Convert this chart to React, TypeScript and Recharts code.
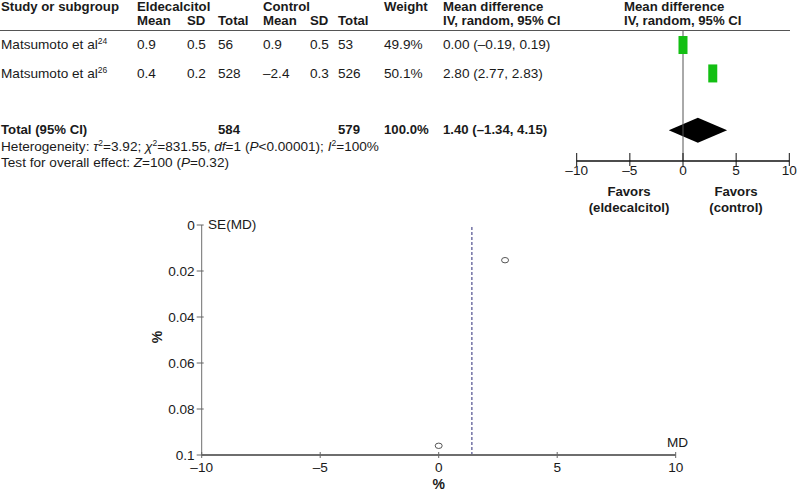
import React from 'react';
import { ComposedChart, Scatter, XAxis, YAxis, ReferenceLine, ReferenceArea } from 'recharts';

// ---- table data ----
const studyNames = ['Matsumoto et al', 'Matsumoto et al'];
const studyRefs = ['24', '26'];
const eldMean = [0.9, 0.4];
const eldSD = [0.5, 0.2];
const eldTotal = [56, 528];
const ctlMean = [0.9, -2.4];
const ctlSD = [0.5, 0.3];
const ctlTotal = [53, 526];
const weights = [49.9, 50.1];
const mdValues = [0.0, 2.8];
const ciLow = [-0.19, 2.77];
const ciHigh = [0.19, 2.83];

const pooledMD = 1.4;
const pooledLow = -1.34;
const pooledHigh = 4.15;
const eldSum = 584;
const ctlSum = 579;
const tau2 = 3.92;
const chi2 = 831.55;
const df = 1;
const hetP = '<0.00001';
const i2 = 100;
const zValue = 100;
const overallP = 0.32;

const forestTicks = [-10, -5, 0, 5, 10];

// ---- funnel data ----
const seValues = [0.096, 0.0153];
const seTicks = [0, 0.02, 0.04, 0.06, 0.08, 0.1];
const mdTicks = [-10, -5, 0, 5, 10];

const FONT = '"Liberation Sans", Arial, sans-serif';
const REG = 13.6;
const BOLD = 13.2;
const fmt = (v: number, d: number) => (v < 0 ? '–' : '') + Math.abs(v).toFixed(d);
const num = (v: number) => (v < 0 ? '–' : '') + Math.abs(v);

const Txt = ({ x, y, children, bold = false, anchor = 'start', size }: any) => {
    const tr = anchor === 'middle' ? 'translate(-50%,-50%)' : anchor === 'end' ? 'translate(-100%,-50%)' : 'translate(0,-50%)';
    return (
        <div style={{
            position: 'absolute', left: x, top: y, transform: tr, whiteSpace: 'nowrap',
            fontSize: size || (bold ? BOLD : REG), fontWeight: bold ? 700 : 400, lineHeight: 1, color: '#1a1a1a'
        }}>{children}</div>
    );
};

const Sup = ({ children }: any) => (
    <span style={{ fontSize: 8.5, position: 'relative', top: -5 }}>{children}</span>
);

const StudyBox = (props: any) => {
    const { cx, cy } = props;
    return <rect x={cx - 4.5} y={cy - 9} width={9} height={18} fill="#13bf13" />;
};

const Diamond = (props: any) => {
    const x = Math.min(props.x, props.x + props.width);
    const w = Math.abs(props.width);
    const y = Math.min(props.y, props.y + props.height);
    const h = Math.abs(props.height);
    const mx = x + w * (pooledMD - pooledLow) / (pooledHigh - pooledLow);
    const my = y + h / 2;
    return <polygon points={`${x},${my} ${mx},${y} ${x + w},${my} ${mx},${y + h}`} fill="#000" />;
};

const ForestTick = (props: any) => {
    const { x, y, payload } = props;
    return (
        <g>
            <line x1={x} x2={x} y1={y - 8} y2={y + 5} stroke="#111" strokeWidth={1} />
            <text x={x} y={y + 14} textAnchor="middle" fontSize={REG} fontFamily={FONT} fill="#1a1a1a">{num(payload.value)}</text>
        </g>
    );
};

const FunnelXTick = (props: any) => {
    const { x, y, payload } = props;
    return (
        <g>
            <line x1={x} x2={x} y1={y - 3} y2={y + 3} stroke="#666" strokeWidth={1} />
            <text x={x} y={y + 16.5} textAnchor="middle" fontSize={REG} fontFamily={FONT} fill="#1a1a1a">{num(payload.value)}</text>
        </g>
    );
};

const FunnelYTick = (props: any) => {
    const { x, y, payload } = props;
    return (
        <g>
            <line x1={x - 5} x2={x + 2} y1={y} y2={y} stroke="#666" strokeWidth={1} />
            <text x={x - 7} y={y + 4.8} textAnchor="end" fontSize={REG} fontFamily={FONT} fill="#1a1a1a">{String(payload.value)}</text>
        </g>
    );
};

const Ellipse = (props: any) => {
    const { cx, cy } = props;
    return <ellipse cx={cx} cy={cy} rx={3.5} ry={2.7} fill="none" stroke="#555" strokeWidth={1} />;
};

const studyRows = studyNames.map((_, i) => ({ md: mdValues[i], row: i + 1 }));
const funnelPoints = mdValues.map((m, i) => ({ md: m, se: seValues[i] }));

const colX = { name: 1, eMean: 137, eSD: 187, eTot: 218, cMean: 263, cSD: 310, cTot: 338, weight: 384, md: 443, plot: 624 };
const rowY = [45, 74];

export default function App() {
    return (
        <div style={{ position: 'absolute', left: 0, top: 0, width: 797, height: 492, background: '#fff', fontFamily: FONT, overflow: 'hidden' }}>
            {/* forest plot */}
            <div style={{ position: 'absolute', left: 0, top: 0 }}>
                <ComposedChart width={797} height={220} margin={{ top: 31, right: 7.7, left: 576.7, bottom: 0 }}>
                    <XAxis type="number" dataKey="md" domain={[-10, 10]} ticks={forestTicks} height={59}
                        axisLine={{ stroke: '#111', strokeWidth: 1.5 }} tickLine={false} tickSize={0} tickMargin={0}
                        tick={<ForestTick />} interval={0} allowDataOverflow />
                    <YAxis type="number" dataKey="row" domain={[0.507, 5.08]} reversed hide width={0} allowDataOverflow />
                    <ReferenceLine x={0} stroke="#555" strokeWidth={1} />
                    {studyRows.map((r, i) => (
                        <ReferenceLine key={i} segment={[{ x: ciLow[i], y: r.row }, { x: ciHigh[i], y: r.row }]} stroke="#000" />
                    ))}
                    <ReferenceArea x1={pooledLow} x2={pooledHigh} y1={3.56} y2={4.44} shape={<Diamond />} />
                    <Scatter data={studyRows} dataKey="row" shape={<StudyBox />} isAnimationActive={false} />
                </ComposedChart>
            </div>

            {/* funnel plot */}
            <div style={{ position: 'absolute', left: 0, top: 0 }}>
                <ComposedChart width={797} height={492} margin={{ top: 225, right: 121.3, left: 141.7, bottom: 0 }}>
                    <XAxis type="number" dataKey="md" domain={[-10, 10]} ticks={mdTicks} height={37}
                        axisLine={{ stroke: '#6e6e6e', strokeWidth: 2 }} tickLine={false} tickSize={0} tickMargin={0}
                        tick={<FunnelXTick />} interval={0} />
                    <YAxis type="number" dataKey="se" domain={[0, 0.1]} ticks={seTicks} reversed width={60}
                        axisLine={{ stroke: '#6e6e6e', strokeWidth: 1 }} tickLine={false} tickSize={0} tickMargin={0}
                        tick={<FunnelYTick />} interval={0} />
                    <ReferenceLine x={pooledMD} stroke="#4f4f8f" strokeWidth={1.2} strokeDasharray="3 2" />
                    <Scatter data={funnelPoints} dataKey="se" shape={<Ellipse />} isAnimationActive={false} />
                </ComposedChart>
            </div>

            {/* header rule */}
            <div style={{ position: 'absolute', left: 0, top: 30, width: 790, height: 1, background: '#555' }} />

            {/* table headers */}
            <Txt x={colX.name} y={7} bold>Study or subgroup</Txt>
            <Txt x={colX.eMean} y={7} bold>Eldecalcitol</Txt>
            <Txt x={colX.cMean} y={7} bold>Control</Txt>
            <Txt x={colX.weight} y={7} bold>Weight</Txt>
            <Txt x={colX.md} y={7} bold>Mean difference</Txt>
            <Txt x={colX.plot} y={7} bold>Mean difference</Txt>
            <Txt x={colX.eMean} y={21} bold>Mean</Txt>
            <Txt x={colX.eSD} y={21} bold>SD</Txt>
            <Txt x={colX.eTot} y={21} bold>Total</Txt>
            <Txt x={colX.cMean} y={21} bold>Mean</Txt>
            <Txt x={colX.cSD} y={21} bold>SD</Txt>
            <Txt x={colX.cTot} y={21} bold>Total</Txt>
            <Txt x={colX.md} y={21} bold>IV, random, 95% CI</Txt>
            <Txt x={colX.plot} y={21} bold>IV, random, 95% CI</Txt>

            {/* study rows */}
            {studyNames.map((n, i) => (
                <React.Fragment key={i}>
                    <Txt x={colX.name} y={rowY[i]}>{n}<Sup>{studyRefs[i]}</Sup></Txt>
                    <Txt x={colX.eMean} y={rowY[i]}>{fmt(eldMean[i], 1)}</Txt>
                    <Txt x={colX.eSD} y={rowY[i]}>{fmt(eldSD[i], 1)}</Txt>
                    <Txt x={colX.eTot} y={rowY[i]}>{eldTotal[i]}</Txt>
                    <Txt x={colX.cMean} y={rowY[i]}>{fmt(ctlMean[i], 1)}</Txt>
                    <Txt x={colX.cSD} y={rowY[i]}>{fmt(ctlSD[i], 1)}</Txt>
                    <Txt x={colX.cTot} y={rowY[i]}>{ctlTotal[i]}</Txt>
                    <Txt x={colX.weight} y={rowY[i]}>{weights[i].toFixed(1)}%</Txt>
                    <Txt x={colX.md} y={rowY[i]}>{fmt(mdValues[i], 2)} ({fmt(ciLow[i], 2)}, {fmt(ciHigh[i], 2)})</Txt>
                </React.Fragment>
            ))}

            {/* total */}
            <Txt x={colX.name} y={130} bold>Total (95% CI)</Txt>
            <Txt x={colX.eTot} y={130} bold>{eldSum}</Txt>
            <Txt x={colX.cTot} y={130} bold>{ctlSum}</Txt>
            <Txt x={colX.weight} y={130} bold>{(weights[0] + weights[1]).toFixed(1)}%</Txt>
            <Txt x={colX.md} y={130} bold>{fmt(pooledMD, 2)} ({fmt(pooledLow, 2)}, {fmt(pooledHigh, 2)})</Txt>
            <Txt x={colX.name} y={147}>
                Heterogeneity: <i>τ</i><Sup>2</Sup>={tau2.toFixed(2)}; <i>χ</i><Sup>2</Sup>={chi2.toFixed(2)}, <i>df</i>={df} (<i>P</i>{hetP}); <i>I</i><Sup>2</Sup>={i2}%
            </Txt>
            <Txt x={colX.name} y={163}>
                Test for overall effect: <i>Z</i>={zValue} (<i>P</i>={overallP.toFixed(2)})
            </Txt>

            {/* favors labels */}
            <Txt x={629} y={192} bold anchor="middle">Favors</Txt>
            <Txt x={629} y={208} bold anchor="middle">(eldecalcitol)</Txt>
            <Txt x={736} y={192} bold anchor="middle">Favors</Txt>
            <Txt x={736} y={208} bold anchor="middle">(control)</Txt>

            {/* funnel labels */}
            <Txt x={208} y={225}>SE(MD)</Txt>
            <Txt x={667} y={443}>MD</Txt>
            <Txt x={438.7} y={484} bold size={14} anchor="middle">%</Txt>
            <div style={{
                position: 'absolute', left: 157, top: 337, transform: 'translate(-50%,-50%) rotate(-90deg)',
                fontSize: 14, fontWeight: 700, lineHeight: 1, color: '#1a1a1a'
            }}>%</div>
        </div>
    );
}
